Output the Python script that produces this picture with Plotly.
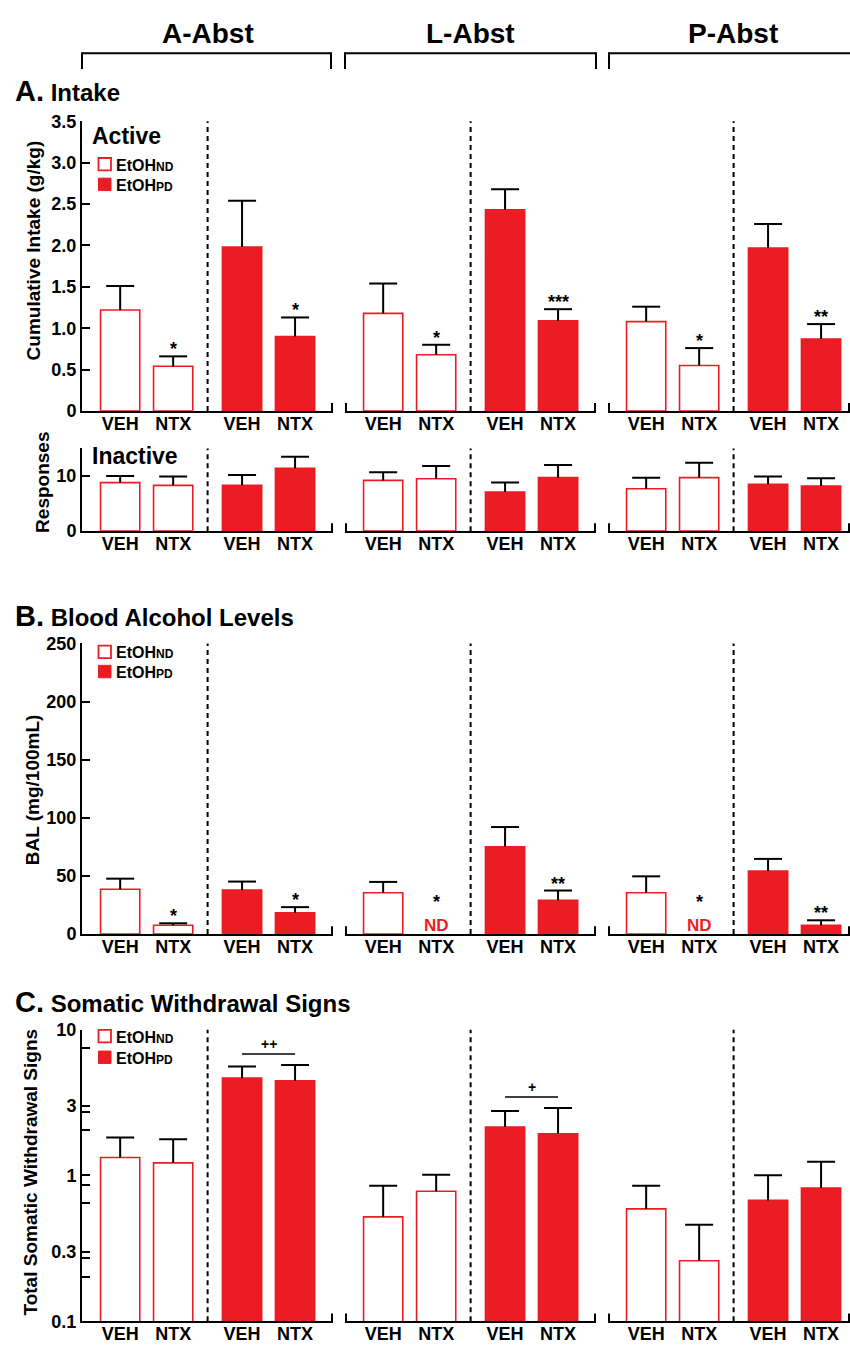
import math
import plotly.graph_objects as go

# ---------------- data ----------------
abst_groups = ["A-Abst", "L-Abst", "P-Abst"]
treatments = ["VEH", "NTX"]

# A. Intake - active (g/kg); per abstinence group: [VEH, NTX]
intake_nd_mean = [[1.22, 0.54], [1.18, 0.68], [1.08, 0.55]]
intake_nd_sem = [[0.29, 0.12], [0.36, 0.12], [0.18, 0.21]]
intake_pd_mean = [[1.98, 0.90], [2.43, 1.09], [1.97, 0.87]]
intake_pd_sem = [[0.56, 0.23], [0.25, 0.14], [0.29, 0.18]]
intake_sig_nd = [["", "*"], ["", "*"], ["", "*"]]
intake_sig_pd = [["", "*"], ["", "***"], ["", "**"]]
intake_tickvals = [0, 0.5, 1.0, 1.5, 2.0, 2.5, 3.0, 3.5]
intake_ticktext = ["0", "0.5", "1.0", "1.5", "2.0", "2.5", "3.0", "3.5"]

# Inactive responses
inactive_nd_mean = [[8.8, 8.3], [9.2, 9.5], [7.7, 9.7]]
inactive_nd_sem = [[1.2, 1.6], [1.5, 2.3], [2.0, 2.7]]
inactive_pd_mean = [[8.3, 11.4], [7.1, 9.7], [8.5, 8.2]]
inactive_pd_sem = [[1.9, 2.1], [1.7, 2.3], [1.4, 1.4]]
inactive_tickvals = [0, 10]
inactive_ticktext = ["0", "10"]

# B. Blood alcohol levels (mg/100mL); None = not detected (ND)
bal_nd_mean = [[38.6, 7.6], [35.6, None], [35.6, None]]
bal_nd_sem = [[9.1, 1.7], [9.3, None], [14.1, None]]
bal_pd_mean = [[37.8, 18.4], [75.2, 29.1], [54.2, 7.6]]
bal_pd_sem = [[7.4, 4.8], [16.9, 8.4], [10.5, 4.3]]
bal_sig_nd = [["", "*"], ["", "*"], ["", "*"]]
bal_sig_pd = [["", "*"], ["", "**"], ["", "**"]]
bal_tickvals = [0, 50, 100, 150, 200, 250]
bal_ticktext = ["0", "50", "100", "150", "200", "250"]

# C. Somatic withdrawal signs (log scale)
som_nd_mean = [[1.33, 1.22], [0.52, 0.78], [0.59, 0.26]]
som_nd_sem = [[0.49, 0.55], [0.33, 0.23], [0.26, 0.20]]
som_pd_mean = [[4.65, 4.46], [2.15, 1.93], [0.675, 0.82]]
som_pd_sem = [[0.93, 1.27], [0.62, 0.97], [0.33, 0.42]]
som_pd_pair_sig = ["++", "+", ""]
som_tickvals = [0.1, 0.2, 0.27, 0.3, 0.65, 0.86, 1, 2.04, 2.74, 3, 7.5, 10]
som_ticktext = ["0.1", "", "", "0.3", "", "", "1", "", "", "3", "", "10"]

y_titles = ["Cumulative Intake (g/kg)", "Responses", "BAL (mg/100mL)",
            "Total Somatic Withdrawal Signs"]
section_titles = [("A.", "Intake"), ("B.", "Blood Alcohol Levels"),
                  ("C.", "Somatic Withdrawal Signs")]
legend_nd = "EtOH<span style='font-size:12px'>ND</span>"
legend_pd = "EtOH<span style='font-size:12px'>PD</span>"

# ---------------- layout helpers ----------------
W, H = 850, 1351
RED = "#EC1C24"
FONT = "Liberation Sans"


def fx(px):
    return px / W


def fy(py):
    return 1 - py / H


UNIT_PX = 53.0
XPOS = [0.72, 1.72, 3.02, 4.02]
DASH_X = 2.37
BAR_W = 0.74
col_px = [(82, 333), (345, 596), (608, 850)]
row_px = [(113, 407), (445, 529), (643, 938), (1035, 1331)]

rows = [
    dict(nd=intake_nd_mean, nds=intake_nd_sem, pd=intake_pd_mean, pds=intake_pd_sem,
         tv=intake_tickvals, tt=intake_ticktext, rng=[0, 3.5], typ="linear",
         sig_nd=intake_sig_nd, sig_pd=intake_sig_pd),
    dict(nd=inactive_nd_mean, nds=inactive_nd_sem, pd=inactive_pd_mean, pds=inactive_pd_sem,
         tv=inactive_tickvals, tt=inactive_ticktext, rng=[0, 15], typ="linear",
         sig_nd=None, sig_pd=None),
    dict(nd=bal_nd_mean, nds=bal_nd_sem, pd=bal_pd_mean, pds=bal_pd_sem,
         tv=bal_tickvals, tt=bal_ticktext, rng=[0, 250], typ="linear",
         sig_nd=bal_sig_nd, sig_pd=bal_sig_pd),
    dict(nd=som_nd_mean, nds=som_nd_sem, pd=som_pd_mean, pds=som_pd_sem,
         tv=som_tickvals, tt=som_ticktext, rng=[-1, 1], typ="log",
         sig_nd=None, sig_pd=None),
]

fig = go.Figure()
shapes = []
annotations = []
layout_axes = {}


def nz(v):
    return float("nan") if v is None else v


def err_cfg(sem):
    # upper-only stem; the cap is drawn separately so no cap sits on the bar top
    return dict(type="data", symmetric=False, array=[nz(s) for s in sem],
                arrayminus=[0 for _ in sem], color="black", thickness=2, width=0)


def pline(x0, y0, x1, y1, width=2, dash=None):
    d = dict(type="line", xref="paper", yref="paper", x0=fx(x0), y0=fy(y0),
             x1=fx(x1), y1=fy(y1), line=dict(color="black", width=width))
    if dash:
        d["line"]["dash"] = dash
    shapes.append(d)


for r, cfg in enumerate(rows):
    top_px, bot_px = row_px[r]
    for c in range(3):
        n = r * 3 + c + 1
        xa = "x" if n == 1 else f"x{n}"
        ya = "y" if n == 1 else f"y{n}"
        xname = "xaxis" if n == 1 else f"xaxis{n}"
        yname = "yaxis" if n == 1 else f"yaxis{n}"
        left, right = col_px[c]

        nd_y = [nz(v) for v in cfg["nd"][c]]
        pd_y = [nz(v) for v in cfg["pd"][c]]
        fig.add_trace(go.Bar(
            x=XPOS[:2], y=nd_y, width=BAR_W, xaxis=xa, yaxis=ya, showlegend=False,
            marker=dict(color="white", line=dict(color=RED, width=1.6)),
            error_y=err_cfg(cfg["nds"][c])))
        fig.add_trace(go.Bar(
            x=XPOS[2:], y=pd_y, width=BAR_W, xaxis=xa, yaxis=ya, showlegend=False,
            marker=dict(color=RED, line=dict(color=RED, width=1.6)),
            error_y=err_cfg(cfg["pds"][c])))
        # error-bar caps
        cap_y = []
        for means, sems in ((cfg["nd"], cfg["nds"]), (cfg["pd"], cfg["pds"])):
            for i in range(2):
                m, s = means[c][i], sems[c][i]
                cap_y.append(float("nan") if m is None else m + s)
        fig.add_trace(go.Scatter(
            x=XPOS, y=cap_y, mode="markers", xaxis=xa, yaxis=ya, showlegend=False,
            hoverinfo="skip",
            marker=dict(symbol="line-ew", size=20, color="black",
                        line=dict(width=2, color="black"))))

        layout_axes[xname] = dict(
            domain=[fx(left), fx(right)], range=[0, (right - left) / UNIT_PX],
            anchor=ya, showline=True, linecolor="black", linewidth=2,
            tickvals=XPOS, ticktext=treatments * 2, ticks="", ticklabelstandoff=-5,
            showgrid=False, zeroline=False, fixedrange=True,
            tickfont=dict(family=FONT, size=18, color="black", weight="bold"))
        yax = dict(domain=[fy(bot_px), fy(top_px)], range=cfg["rng"], type=cfg["typ"],
                   anchor=xa, showgrid=False, zeroline=False, fixedrange=True)
        if c == 0:
            yax.update(showline=True, linecolor="black", linewidth=2,
                       tickvals=cfg["tv"], ticktext=cfg["tt"], ticks="inside",
                       ticklen=8, tickwidth=2, tickcolor="black",
                       tickfont=dict(family=FONT, size=18, color="black", weight="bold"))
        else:
            yax.update(visible=False)
        layout_axes[yname] = yax

        # dashed separator between ND and PD groups
        shapes.append(dict(type="line", xref=xa, yref=f"{ya} domain",
                           x0=DASH_X, x1=DASH_X, y0=0, y1=1,
                           line=dict(color="black", width=2, dash="5px,4px")))
        # end ticks of x axis
        pline(right - 1, bot_px, right - 1, bot_px - 8)
        if c > 0:
            pline(left + 1, bot_px, left + 1, bot_px - 8)

        # significance marks
        for sig, means, sems, offs in ((cfg["sig_nd"], cfg["nd"], cfg["nds"], 0),
                                       (cfg["sig_pd"], cfg["pd"], cfg["pds"], 2)):
            if sig is None:
                continue
            for i in range(2):
                s = sig[c][i]
                if not s:
                    continue
                m = means[c][i]
                if m is None:
                    annotations.append(dict(
                        xref=xa, yref=ya, x=XPOS[offs + i], y=0, yanchor="bottom",
                        text="<b>ND</b>", showarrow=False, yshift=-3,
                        font=dict(family=FONT, size=17, color=RED)))
                    annotations.append(dict(
                        xref=xa, yref=ya, x=XPOS[offs + i], y=0, yanchor="bottom",
                        text=f"<b>{s}</b>", showarrow=False, yshift=20,
                        font=dict(family=FONT, size=18, color="black")))
                else:
                    annotations.append(dict(
                        xref=xa, yref=ya, x=XPOS[offs + i], y=m + sems[c][i],
                        yanchor="bottom", text=f"<b>{s}</b>", showarrow=False, yshift=-5,
                        font=dict(family=FONT, size=18, color="black")))

        # somatic pair comparison
        if cfg["typ"] == "log" and som_pd_pair_sig[c]:
            tops = [som_pd_mean[c][i] + som_pd_sem[c][i] for i in range(2)]
            h = max(tops) * 1.19
            fig.add_trace(go.Scatter(x=XPOS[2:], y=[h, h], mode="lines", xaxis=xa, yaxis=ya,
                                     line=dict(color="black", width=1.5), showlegend=False,
                                     hoverinfo="skip"))
            annotations.append(dict(
                xref=xa, yref=ya, x=(XPOS[2] + XPOS[3]) / 2, y=math.log10(h),
                yanchor="bottom", text=f"<b>{som_pd_pair_sig[c]}</b>", showarrow=False,
                yshift=0, font=dict(family=FONT, size=14, color="black")))

# column headers with brackets
header_cx = [208, 471, 733]
bracket_px = [(82, 331), (345, 596), (609, 860)]
for g, cx, (bl, br) in zip(abst_groups, header_cx, bracket_px):
    annotations.append(dict(xref="paper", yref="paper", x=fx(cx), y=fy(24),
                            xanchor="center", yanchor="middle", showarrow=False,
                            text=f"<b>{g}</b>",
                            font=dict(family=FONT, size=28, color="black")))
    pline(bl, 44, br, 44)
    pline(bl, 43, bl, 60)
    pline(br, 43, br, 60)

# section titles
for (letter, name), ty in zip(section_titles, [82, 615, 1007]):
    annotations.append(dict(xref="paper", yref="paper", x=fx(13), y=fy(ty),
                            xanchor="left", yanchor="middle", showarrow=False,
                            text=f"<b><span style='font-size:29px'>{letter}</span> {name}</b>",
                            font=dict(family=FONT, size=24, color="black")))

# inner panel labels
for lab, ty in (("Active", 128), ("Inactive", 453)):
    annotations.append(dict(xref="paper", yref="paper", x=fx(90), y=fy(ty),
                            xanchor="left", yanchor="middle", showarrow=False,
                            text=f"<b>{lab}</b>",
                            font=dict(family=FONT, size=23, color="black")))

# y axis titles
for t, (tx, ty) in zip(y_titles, [(33, 244), (43, 480), (32, 792), (31, 1180)]):
    annotations.append(dict(xref="paper", yref="paper", x=fx(tx), y=fy(ty),
                            xanchor="center", yanchor="middle", showarrow=False,
                            textangle=-90, text=f"<b>{t}</b>",
                            font=dict(family=FONT, size=19, color="black")))

# legends
for nd_y, pd_y in ((156.5, 177), (651.5, 671.5), (1041.5, 1063)):
    shapes.append(dict(type="rect", xref="paper", yref="paper",
                       x0=fx(98.5), x1=fx(111), y0=fy(nd_y - 6.3), y1=fy(nd_y + 6.3),
                       line=dict(color=RED, width=1.8), fillcolor="white"))
    shapes.append(dict(type="rect", xref="paper", yref="paper",
                       x0=fx(98.5), x1=fx(111), y0=fy(pd_y - 6.3), y1=fy(pd_y + 6.3),
                       line=dict(color=RED, width=1), fillcolor=RED))
    for txt, yy in ((legend_nd, nd_y), (legend_pd, pd_y)):
        annotations.append(dict(xref="paper", yref="paper", x=fx(114), y=fy(yy + 1),
                                xanchor="left", yanchor="middle", showarrow=False,
                                text=f"<b>{txt}</b>",
                                font=dict(family=FONT, size=16, color="black")))

fig.update_layout(
    width=W, height=H, margin=dict(l=0, r=0, t=0, b=0),
    paper_bgcolor="white", plot_bgcolor="rgba(0,0,0,0)",
    font=dict(family=FONT, color="black"),
    barmode="overlay", showlegend=False,
    shapes=shapes, annotations=annotations, **layout_axes)

fig.write_html("out.html")
